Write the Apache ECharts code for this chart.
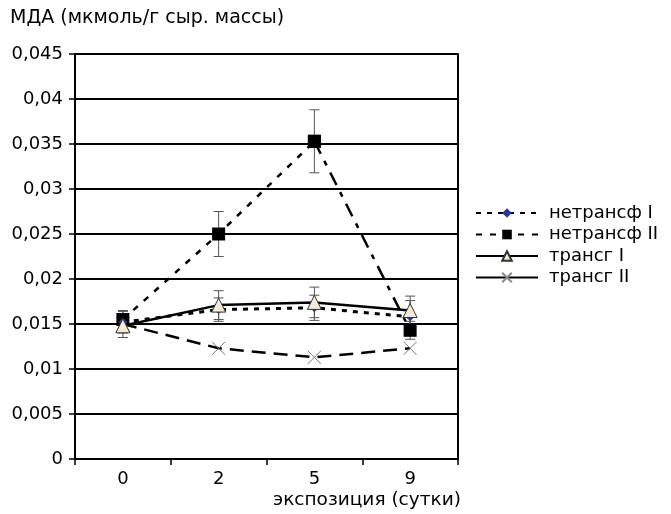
<!DOCTYPE html>
<html>
<head>
<meta charset="utf-8">
<script src="https://cdn.jsdelivr.net/npm/echarts@6/dist/echarts.min.js"></script>
<style>
  html, body { margin: 0; padding: 0; background: #fff; }
  #chart { width: 671px; height: 514px; }
</style>
</head>
<body>
<div id="chart"></div>
<script>
// сутки экспозиции
const days = ['0', '2', '5', '9'];

// МДА, мкмоль/г сыр. массы
const netransf1 = [0.0152, 0.0166, 0.0168, 0.0158];
const netransf2 = [0.0155, 0.0250, 0.0353, 0.0143];
const transg1 = [0.0148, 0.0171, 0.0174, 0.0165];
const transg2 = [0.0150, 0.0123, 0.0113, 0.0123];

// погрешности
const netransf1Err = [0.0012, 0.0013, 0.0014, 0.0018];
const netransf2Err = [0.0010, 0.0025, 0.0035, 0.0010];
const transg1Err = [0.0013, 0.0016, 0.0017, 0.0016];

const font = 'DejaVu Sans, sans-serif';

const errData = (vals, errs) => vals.map((v, i) => [i, v - errs[i], v + errs[i]]);

// вертикальная черта с засечками
const errSeries = (vals, errs) => ({
    type: 'custom',
    data: errData(vals, errs),
    z: 1,
    silent: true,
    renderItem: (params, api) => {
        const lo = api.coord([api.value(0), api.value(1)]);
        const hi = api.coord([api.value(0), api.value(2)]);
        const w = 5;
        const st = { stroke: '#555', lineWidth: 1 };
        return {
            type: 'group',
            children: [
                { type: 'line', shape: { x1: lo[0], y1: lo[1], x2: hi[0], y2: hi[1] }, style: st },
                { type: 'line', shape: { x1: lo[0] - w, y1: lo[1], x2: lo[0] + w, y2: lo[1] }, style: st },
                { type: 'line', shape: { x1: hi[0] - w, y1: hi[1], x2: hi[0] + w, y2: hi[1] }, style: st }
            ]
        };
    }
});

const chart = echarts.init(document.getElementById('chart'));

chart.setOption({
    animation: false,
    title: [
        { text: 'МДА (мкмоль/г сыр. массы)', left: 10, top: 9, padding: 0,
          textStyle: { fontFamily: font, fontSize: 19, fontWeight: 'normal', color: '#000' } },
        { text: 'экспозиция (сутки)', left: 273, top: 491, padding: 0,
          textStyle: { fontFamily: font, fontSize: 18.5, fontWeight: 'normal', color: '#000' } }
    ],
    grid: { left: 75, right: 213, top: 54, bottom: 55 },
    legend: {
        orient: 'vertical',
        left: 475,
        top: 204,
        padding: 0,
        itemWidth: 62,
        itemHeight: 12,
        itemGap: 3.5,
        textStyle: { fontFamily: font, fontSize: 18, color: '#000', padding: [0, 0, 0, 6] },
        data: [
            { name: 'нетрансф I' },
            { name: 'нетрансф II' },
            { name: 'трансг I' },
            { name: 'трансг II', lineStyle: { type: 'solid' }, itemStyle: { borderColor: '#888' } }
        ]
    },
    xAxis: {
        type: 'category',
        data: days,
        boundaryGap: true,
        axisLine: { lineStyle: { color: '#000', width: 2 } },
        axisTick: { show: true, length: 6, lineStyle: { color: '#000', width: 1.5 } },
        axisLabel: { fontFamily: font, fontSize: 18, color: '#000', margin: 11 },
        splitLine: { show: false }
    },
    yAxis: [{
        type: 'value',
        min: 0,
        max: 0.045,
        interval: 0.005,
        axisLine: { show: true, lineStyle: { color: '#000', width: 2 } },
        axisTick: { show: true, length: 6, lineStyle: { color: '#000', width: 1.5 } },
        axisLabel: {
            fontFamily: font, fontSize: 18, color: '#000', margin: 12,
            formatter: v => String(+v.toFixed(3)).replace('.', ',')
        },
        splitLine: { show: true, lineStyle: { color: '#000', width: 2 } }
    }, {
        type: 'value',
        position: 'right',
        min: 0,
        max: 0.045,
        interval: 0.005,
        axisLine: { show: true, lineStyle: { color: '#000', width: 2 } },
        axisTick: { show: false },
        axisLabel: { show: false },
        splitLine: { show: false }
    }],
    series: [
        errSeries(netransf2, netransf2Err),
        errSeries(netransf1, netransf1Err),
        errSeries(transg1, transg1Err),
        {
            name: 'трансг II',
            type: 'line',
            data: transg2,
            z: 2,
            symbol: 'path://M0,0L10,10M10,0L0,10',
            symbolSize: 13,
            itemStyle: { color: 'transparent', borderColor: '#777', borderWidth: 1 },
            lineStyle: { color: '#000', width: 2.5, type: [14, 8] }
        },
        {
            name: 'нетрансф II',
            type: 'line',
            data: netransf2.map((v, i) => (i < 3 ? v : null)),
            z: 3,
            symbol: 'rect',
            symbolSize: 13,
            itemStyle: { color: '#000' },
            lineStyle: { color: '#000', width: 2.5, type: [6, 8] }
        },
        {
            type: 'line',
            data: netransf2.map((v, i) => (i >= 2 ? v : null)),
            z: 3,
            symbol: 'rect',
            symbolSize: 13,
            itemStyle: { color: '#000' },
            lineStyle: { color: '#000', width: 2.5, type: [14, 8, 5, 8] }
        },
        {
            name: 'нетрансф I',
            type: 'line',
            data: netransf1,
            z: 4,
            symbol: 'diamond',
            symbolSize: 9,
            itemStyle: { color: '#2a3a9a' },
            lineStyle: { color: '#000', width: 3, type: [5, 6] }
        },
        {
            name: 'трансг I',
            type: 'line',
            data: transg1,
            z: 5,
            symbol: 'triangle',
            symbolSize: 14,
            itemStyle: { color: '#f4ead6', borderColor: '#333', borderWidth: 1 },
            lineStyle: { color: '#000', width: 2.5 }
        }
    ]
});
</script>
</body>
</html>
